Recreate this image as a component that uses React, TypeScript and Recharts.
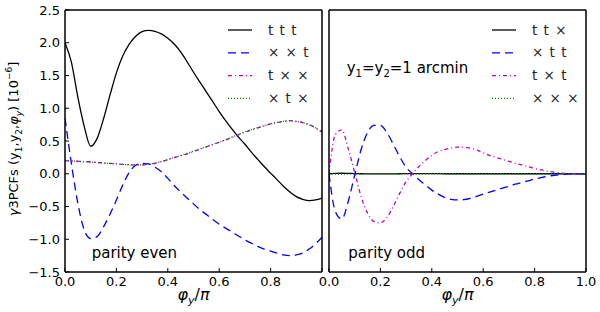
import React from "react";
import { Legend, Line, LineChart, XAxis, YAxis } from "recharts";

const PHI = [
	0, 0.025, 0.05, 0.075, 0.1, 0.125, 0.15, 0.175, 0.2, 0.225, 0.25, 0.275, 0.3, 0.325, 0.35, 0.375, 0.4,
	0.425, 0.45, 0.475, 0.5, 0.525, 0.55, 0.575, 0.6, 0.625, 0.65, 0.675, 0.7, 0.725, 0.75, 0.775, 0.8,
	0.825, 0.85, 0.875, 0.9, 0.925, 0.95, 0.975, 1.0,
];

// parity even panel
const EVEN_TTT = [
	2.0, 1.7, 1.17, 0.72, 0.42, 0.54, 0.84, 1.2, 1.54, 1.8, 1.98, 2.1, 2.17, 2.19, 2.175, 2.135, 2.07, 1.98,
	1.86, 1.71, 1.55, 1.4, 1.25, 1.1, 0.95, 0.81, 0.68, 0.56, 0.45, 0.33, 0.22, 0.11, 0.01, -0.09, -0.19,
	-0.28, -0.35, -0.39, -0.41, -0.4, -0.37,
];
const EVEN_XXT = [
	0.85, 0.15, -0.45, -0.86, -0.99, -0.96, -0.81, -0.62, -0.4, -0.17, 0.02, 0.13, 0.16, 0.15, 0.1, 0.03,
	-0.07, -0.18, -0.28, -0.37, -0.46, -0.55, -0.62, -0.7, -0.77, -0.83, -0.89, -0.95, -1.01, -1.06, -1.11,
	-1.15, -1.18, -1.21, -1.24, -1.25, -1.24, -1.21, -1.15, -1.07, -0.97,
];
const EVEN_TXX = [
	0.2, 0.195, 0.19, 0.185, 0.18, 0.172, 0.165, 0.158, 0.15, 0.143, 0.137, 0.133, 0.135, 0.145, 0.16, 0.185,
	0.215, 0.245, 0.275, 0.305, 0.34, 0.375, 0.41, 0.445, 0.48, 0.515, 0.555, 0.595, 0.635, 0.67, 0.7, 0.73,
	0.76, 0.78, 0.8, 0.81, 0.8, 0.78, 0.75, 0.7, 0.64,
];
const EVEN_XTX = [
	0.2, 0.195, 0.19, 0.184, 0.178, 0.171, 0.164, 0.157, 0.15, 0.143, 0.137, 0.134, 0.137, 0.147, 0.163,
	0.188, 0.218, 0.248, 0.278, 0.31, 0.345, 0.38, 0.415, 0.45, 0.485, 0.52, 0.56, 0.6, 0.64, 0.675, 0.705,
	0.735, 0.762, 0.783, 0.8, 0.808, 0.8, 0.78, 0.748, 0.7, 0.635,
];

// parity odd panel
const ODD_TTX = [
	0, 0.005, 0.008, 0.006, 0.003, 0, -0.002, -0.003, -0.003, -0.002, -0.001, 0, 0.001, 0.002, 0.002, 0.002,
	0.001, 0.001, 0, 0, 0, 0, 0, 0, 0, 0, 0, 0, 0, 0, 0, 0, 0, 0, 0, 0, 0, 0, 0, 0, 0,
];
const ODD_XTT = [
	0, -0.58, -0.69, -0.42, -0.02, 0.37, 0.63, 0.74, 0.74, 0.63, 0.45, 0.26, 0.1, 0.0, -0.09, -0.17, -0.25,
	-0.31, -0.36, -0.39, -0.4, -0.395, -0.375, -0.345, -0.31, -0.28, -0.25, -0.22, -0.19, -0.16, -0.135,
	-0.11, -0.08, -0.06, -0.04, -0.025, -0.012, -0.004, 0, 0, 0,
];
const ODD_TXT = [
	0, 0.6, 0.67, 0.38, 0.02, -0.35, -0.6, -0.73, -0.75, -0.67, -0.5, -0.3, -0.12, 0.0, 0.11, 0.2, 0.28,
	0.34, 0.37, 0.39, 0.405, 0.405, 0.39, 0.36, 0.32, 0.28, 0.25, 0.22, 0.19, 0.16, 0.135, 0.11, 0.08, 0.06,
	0.04, 0.025, 0.012, 0.004, 0, 0, 0,
];
const ODD_XXX = [
	0, -0.004, -0.006, -0.004, -0.002, 0, 0.002, 0.003, 0.002, 0.001, 0, 0, -0.001, -0.001, -0.001, 0, 0, 0,
	0, 0, 0, 0, 0, 0, 0, 0, 0, 0, 0, 0, 0, 0, 0, 0, 0, 0, 0, 0, 0, 0, 0,
];

const EVEN_LABELS = ["t t t", "× × t", "t × ×", "× t ×"];
const ODD_LABELS = ["t t ×", "× t t", "t × t", "× × ×"];

const X_TICKS = [0, 0.2, 0.4, 0.6, 0.8, 1.0];
const Y_TICKS = [-1.5, -1.0, -0.5, 0, 0.5, 1.0, 1.5, 2.0, 2.5];

const FONT = "DejaVu Sans";

// solid black, blue dashed, magenta dash-dot, green dotted (matplotlib k, b, m, g)
const STYLES = [
	{ stroke: "#000000", dash: undefined },
	{ stroke: "#0000ff", dash: "8 5" },
	{ stroke: "#bf00bf", dash: "4 3 1 3" },
	{ stroke: "#008000", dash: "1 2" },
];

const toRows = (cols: number[][]) =>
	PHI.map((phi, i) => ({ phi, s0: cols[0][i], s1: cols[1][i], s2: cols[2][i], s3: cols[3][i] }));

const evenRows = toRows([EVEN_TTT, EVEN_XXT, EVEN_TXX, EVEN_XTX]);
const oddRows = toRows([ODD_TTX, ODD_XTT, ODD_TXT, ODD_XXX]);

const fmt = (v: number) => (v < 0 ? "\u2212" : "") + Math.abs(v).toFixed(1);
const tickStyle = { fill: "#000", fontSize: 13, fontFamily: FONT };
const axisLine = { stroke: "#000", strokeWidth: 1.5 };
const tickLine = { stroke: "#000", strokeWidth: 1 };

function LegendBox({ labels }: { labels: string[] }) {
	return (
		<svg width={110} height={95} style={{ display: "block" }}>
			{STYLES.map((s, i) => {
				const y = 12 + i * 22.8;
				return (
					<g key={labels[i]}>
						<line x1={8} x2={32} y1={y} y2={y} stroke={s.stroke} strokeWidth={1.3} strokeDasharray={s.dash} />
						<text x={48} y={y + 4.5} fontSize={13.5} fontFamily={FONT} fill="#222" wordSpacing={2}>
							{labels[i]}
						</text>
					</g>
				);
			})}
		</svg>
	);
}

function XTitle({ cx }: { cx: number }) {
	return (
		<text x={cx} y={300} textAnchor="middle" fontSize={16} fontFamily={FONT} fill="#000">
			<tspan fontStyle="italic">φ</tspan>
			<tspan fontStyle="italic" fontSize={11} dy={4}>
				y
			</tspan>
			<tspan dy={-4}>/</tspan>
			<tspan fontStyle="italic">π</tspan>
		</text>
	);
}

function YTitle() {
	return (
		<text transform="translate(17.5,139) rotate(-90)" textAnchor="middle" fontSize={13} fontFamily={FONT} fill="#000">
			<tspan fontStyle="italic">γ</tspan>3PCFs (y
			<tspan fontSize={9} dy={4}>
				1
			</tspan>
			<tspan dy={-4}>,y</tspan>
			<tspan fontSize={9} dy={4}>
				2
			</tspan>
			<tspan dy={-4}>,</tspan>
			<tspan fontStyle="italic">φ</tspan>
			<tspan fontStyle="italic" fontSize={9} dy={4}>
				y
			</tspan>
			<tspan dy={-4}>) [10</tspan>
			<tspan fontSize={9} dy={-6}>
				−6
			</tspan>
			<tspan dy={6}>]</tspan>
		</text>
	);
}

function Frame({ left }: { left: boolean }) {
	return (
		<>
			<XAxis
				xAxisId="b"
				dataKey="phi"
				type="number"
				domain={[0, 1]}
				ticks={X_TICKS}
				interval={0}
				allowDataOverflow
				height={40}
				tickSize={-4}
				tickMargin={8.5}
				tick={tickStyle}
				tickFormatter={(v: number) => (left && v === 1 ? "" : v.toFixed(1))}
				axisLine={axisLine}
				tickLine={tickLine}
			/>
			<XAxis
				xAxisId="t"
				orientation="top"
				dataKey="phi"
				type="number"
				domain={[0, 1]}
				ticks={X_TICKS}
				interval={0}
				allowDataOverflow
				height={1}
				tickSize={-4}
				tick={false}
				axisLine={axisLine}
				tickLine={tickLine}
			/>
			<YAxis
				yAxisId="l"
				type="number"
				domain={[-1.5, 2.5]}
				ticks={Y_TICKS}
				interval={0}
				allowDataOverflow
				width={left ? 65 : 1}
				tickSize={-4}
				tickMargin={9}
				tick={left ? tickStyle : false}
				tickFormatter={fmt}
				axisLine={axisLine}
				tickLine={tickLine}
			/>
			<YAxis
				yAxisId="r"
				orientation="right"
				type="number"
				domain={[-1.5, 2.5]}
				ticks={Y_TICKS}
				interval={0}
				allowDataOverflow
				width={1}
				tickSize={-4}
				tick={false}
				axisLine={axisLine}
				tickLine={tickLine}
			/>
		</>
	);
}

function Series() {
	return (
		<>
			{STYLES.map((s, i) => (
				<Line
					key={i}
					xAxisId="b"
					yAxisId="l"
					dataKey={`s${i}`}
					type="monotone"
					stroke={s.stroke}
					strokeWidth={1.3}
					strokeDasharray={s.dash}
					dot={false}
					activeDot={false}
					isAnimationActive={false}
				/>
			))}
		</>
	);
}

export default function App() {
	return (
		<div style={{ position: "absolute", left: 0, top: 0, width: 600, height: 312, background: "#fff" }}>
			<div style={{ position: "absolute", left: 0, top: 0 }}>
				<LineChart width={325} height={312} data={evenRows} margin={{ top: 9, right: 2, bottom: 0, left: 0 }}>
					{Frame({ left: true })}
					{Series()}
					<Legend
						layout="vertical"
						align="center"
						verticalAlign="middle"
						wrapperStyle={{ left: 220, top: 18, width: 110, height: 95 }}
						content={() => <LegendBox labels={EVEN_LABELS} />}
					/>
					<YTitle />
					<XTitle cx={193.5} />
					<text x={91.7} y={258} fontSize={15} fontFamily={FONT} fill="#000">
						parity even
					</text>
				</LineChart>
			</div>
			<div style={{ position: "absolute", left: 300, top: 0 }}>
				<LineChart width={300} height={312} data={oddRows} margin={{ top: 9, right: 13, bottom: 0, left: 28 }}>
					{Frame({ left: false })}
					{Series()}
					<Legend
						layout="vertical"
						align="center"
						verticalAlign="middle"
						wrapperStyle={{ left: 183.7, top: 18, width: 110, height: 95 }}
						content={() => <LegendBox labels={ODD_LABELS} />}
					/>
					<XTitle cx={157.5} />
					<text x={46.7} y={73.3} fontSize={15} fontFamily={FONT} fill="#000">
						y<tspan fontSize={10} dy={4}>1</tspan>
						<tspan dy={-4}>=y</tspan>
						<tspan fontSize={10} dy={4}>2</tspan>
						<tspan dy={-4}>=1 arcmin</tspan>
					</text>
					<text x={48.3} y={258.3} fontSize={15} fontFamily={FONT} fill="#000">
						parity odd
					</text>
				</LineChart>
			</div>
		</div>
	);
}
